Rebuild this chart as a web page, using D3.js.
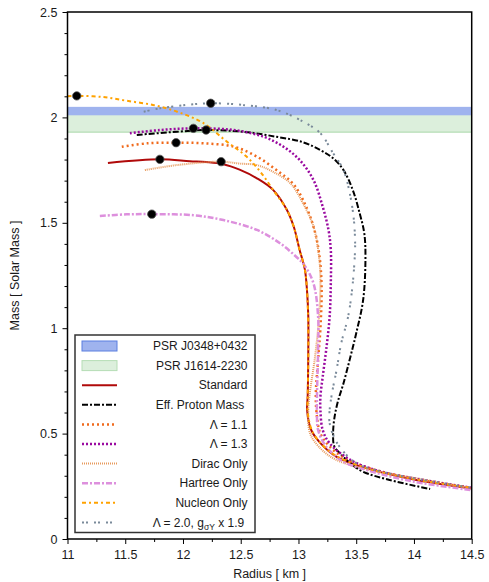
<!DOCTYPE html>
<html>
<head>
<meta charset="utf-8">
<script src="https://cdn.jsdelivr.net/npm/d3@7"></script>
<style>
  body { margin: 0; background: #fff; }
  text { font-family: "Liberation Sans", Arial, Helvetica, sans-serif; fill: #1a1a1a; }
</style>
</head>
<body>
<div id="chart"></div>
<script>
// mass-radius curves, [radius km, mass Msun]
var standard = [[11.35,1.784],[11.8,1.801],[12.06,1.792],[12.2,1.788],[12.35,1.778],[12.49,1.752],[12.64,1.711],[12.78,1.656],[12.9,1.561],[12.96,1.48],[13.01,1.371],[13.055,1.28],[13.075,1.17],[13.085,1.055],[13.085,0.897],[13.08,0.68],[13.075,0.61],[13.11,0.517],[13.19,0.455],[13.33,0.39],[13.59,0.335],[14.02,0.28],[14.5,0.24]];
var effProton = [[11.6,1.917],[11.95,1.932],[12.2,1.94],[12.52,1.932],[12.81,1.908],[13.04,1.882],[13.19,1.845],[13.3,1.806],[13.39,1.75],[13.47,1.656],[13.53,1.545],[13.57,1.45],[13.58,1.33],[13.56,1.134],[13.5,0.976],[13.45,0.865],[13.39,0.739],[13.34,0.65],[13.31,0.57],[13.3,0.5],[13.31,0.44],[13.37,0.4],[13.45,0.359],[13.56,0.319],[13.79,0.28],[14.14,0.237]];
var lambda11 = [[11.47,1.861],[11.69,1.877],[11.94,1.88],[12.18,1.877],[12.44,1.861],[12.64,1.814],[12.81,1.75],[12.95,1.687],[13.04,1.608],[13.13,1.482],[13.18,1.35],[13.2,1.2],[13.19,1.0],[13.17,0.85],[13.15,0.68],[13.16,0.58],[13.19,0.5],[13.26,0.445],[13.38,0.39],[13.62,0.335],[14.04,0.282],[14.5,0.243]];
var lambda13 = [[11.54,1.925],[11.8,1.94],[12.09,1.948],[12.44,1.94],[12.7,1.908],[12.87,1.861],[13.01,1.798],[13.13,1.703],[13.21,1.576],[13.26,1.466],[13.28,1.371],[13.28,1.213],[13.27,1.055],[13.24,0.897],[13.21,0.77],[13.19,0.675],[13.19,0.612],[13.21,0.517],[13.27,0.454],[13.45,0.375],[13.7,0.322],[14.05,0.283],[14.5,0.243]];
var diracOnly = [[11.67,1.75],[11.95,1.774],[12.33,1.79],[12.49,1.781],[12.64,1.774],[12.78,1.742],[12.93,1.687],[13.04,1.592],[13.13,1.482],[13.18,1.33],[13.19,1.2],[13.17,1.0],[13.14,0.85],[13.1,0.7],[13.085,0.612],[13.1,0.501],[13.19,0.43],[13.3,0.383],[13.45,0.351],[13.73,0.315],[14.02,0.288],[14.5,0.24]];
var hartreeOnly = [[11.28,1.532],[11.51,1.54],[11.73,1.541],[12.09,1.536],[12.35,1.513],[12.64,1.466],[12.84,1.403],[12.98,1.339],[13.05,1.3],[13.13,1.213],[13.17,1.055],[13.17,0.897],[13.16,0.675],[13.16,0.6],[13.17,0.517],[13.24,0.438],[13.38,0.37],[13.59,0.327],[14.0,0.272],[14.5,0.232]];
var nucleonOnly = [[11.0,2.1],[11.08,2.102],[11.3,2.097],[11.51,2.079],[11.74,2.059],[11.95,2.027],[12.18,1.972],[12.38,1.885],[12.55,1.814],[12.68,1.735],[12.78,1.656],[12.9,1.561],[12.96,1.48],[13.01,1.371],[13.055,1.28],[13.075,1.17],[13.085,1.0],[13.085,0.85],[13.08,0.68],[13.08,0.6],[13.12,0.51],[13.2,0.45],[13.34,0.39],[13.6,0.335],[14.02,0.282],[14.5,0.243]];
var lambda20 = [[11.66,2.027],[11.8,2.043],[12.03,2.059],[12.24,2.067],[12.52,2.059],[12.81,2.035],[13.04,1.98],[13.19,1.925],[13.3,1.83],[13.39,1.75],[13.45,1.624],[13.48,1.513],[13.49,1.418],[13.49,1.371],[13.47,1.213],[13.43,1.055],[13.37,0.928],[13.33,0.802],[13.29,0.691],[13.27,0.612],[13.27,0.549],[13.32,0.47],[13.39,0.414],[13.5,0.36],[13.7,0.322],[14.05,0.283],[14.5,0.243]];

// maximum-mass points
var maxPoints = [[11.8,1.801],[12.2,1.94],[11.94,1.88],[12.09,1.948],[12.33,1.79],[11.73,1.541],[11.08,2.102],[12.24,2.067]];

// observed pulsar masses
var psrNames = ["PSR J0348+0432", "PSR J1614-2230"];
var psrLow = [1.97, 1.93];
var psrHigh = [2.05, 2.01];

var xTicks = [11, 11.5, 12, 12.5, 13, 13.5, 14, 14.5];
var yTicks = [0, 0.5, 1, 1.5, 2, 2.5];

var series = [
  {name: "Standard", data: standard, color: "#b00a0a", width: 2, dash: null},
  {name: "Eff. Proton Mass ", data: effProton, color: "#000000", width: 2, dash: "6,2,2,2"},
  {name: "Λ = 1.1", data: lambda11, color: "#f06a1c", width: 2.5, dash: "2,3"},
  {name: "Λ = 1.3", data: lambda13, color: "#9a0aa0", width: 2.5, dash: "2,2"},
  {name: "Dirac Only", data: diracOnly, color: "#e89a5c", width: 2, dash: "1,1"},
  {name: "Hartree Only", data: hartreeOnly, color: "#dd90dd", width: 2.5, dash: "6,2,2,2"},
  {name: "Nucleon Only", data: nucleonOnly, color: "#ffa200", width: 2, dash: "4,3,2,3"},
  {name: "Λ20", data: lambda20, color: "#7a8a9a", width: 2, dash: "2,2,2,6"}
];

var svgWidth = 489, svgHeight = 582;
var margin = {top: 12, right: 17.3, bottom: 43, left: 67.5};
var chartWidth = svgWidth - margin.left - margin.right;
var chartHeight = svgHeight - margin.top - margin.bottom;

var svg = d3.select("#chart").append("svg")
  .attr("width", svgWidth)
  .attr("height", svgHeight);

var chartGroup = svg.append("g")
  .attr("transform", `translate(${margin.left}, ${margin.top})`);

var xScale = d3.scaleLinear().domain([11, 14.5]).range([0, chartWidth]);
var yScale = d3.scaleLinear().domain([0, 2.5]).range([chartHeight, 0]);

chartGroup.append("clipPath").attr("id", "clip")
  .append("rect").attr("width", chartWidth).attr("height", chartHeight);

var plot = chartGroup.append("g").attr("clip-path", "url(#clip)");

// pulsar bands
var bandFill = ["#9fb3ee", "#dcefdc"];
psrNames.forEach(function(n, i) {
  plot.append("rect")
    .attr("x", 0)
    .attr("width", chartWidth)
    .attr("y", yScale(psrHigh[i]))
    .attr("height", yScale(psrLow[i]) - yScale(psrHigh[i]))
    .attr("fill", bandFill[i]);
});
plot.append("line")
  .attr("x1", 0).attr("x2", chartWidth)
  .attr("y1", yScale(psrLow[1])).attr("y2", yScale(psrLow[1]))
  .attr("stroke", "#b5ddb5").attr("stroke-width", 1.2);

var line = d3.line()
  .x(d => xScale(d[0]))
  .y(d => yScale(d[1]))
  .curve(d3.curveCatmullRom.alpha(0.5));

series.forEach(function(s) {
  plot.append("path")
    .datum(s.data)
    .attr("fill", "none")
    .attr("stroke", s.color)
    .attr("stroke-width", s.width)
    .attr("stroke-dasharray", s.dash)
    .attr("d", line);
});

plot.selectAll(".maxpt")
  .data(maxPoints)
  .enter().append("circle")
  .attr("class", "maxpt")
  .attr("cx", d => xScale(d[0]))
  .attr("cy", d => yScale(d[1]))
  .attr("r", 4.2)
  .attr("fill", "#000")
  .attr("stroke", "#555")
  .attr("stroke-width", 0.8);

// axes
var xAxis = d3.axisBottom(xScale).tickValues(xTicks).tickSize(5).tickFormat(d3.format("~g"));
var yAxis = d3.axisLeft(yScale).tickValues(yTicks).tickSize(5).tickFormat(d3.format("~g"));

var gx = chartGroup.append("g")
  .attr("transform", `translate(0,${chartHeight})`)
  .call(xAxis);
gx.append("g").call(d3.axisBottom(xScale).tickValues(d3.range(11.25, 14.5, 0.5)).tickSize(3).tickFormat(""));

var gy = chartGroup.append("g").call(yAxis);
gy.append("g").call(d3.axisLeft(yScale).tickValues(d3.range(0, 2.51, 0.1).filter((v, i) => i % 5 != 0)).tickSize(3).tickFormat(""));

chartGroup.selectAll(".domain").remove();
chartGroup.selectAll(".tick line").attr("stroke", "#000").attr("stroke-width", 1);
gx.selectAll(".tick text").attr("font-size", "12.5px").attr("dy", "0.95em").attr("fill", "#1a1a1a");
gy.selectAll(".tick text").attr("font-size", "12.5px").attr("x", -10).attr("fill", "#1a1a1a");

chartGroup.append("rect")
  .attr("width", chartWidth).attr("height", chartHeight)
  .attr("fill", "none").attr("stroke", "#000").attr("stroke-width", 1.5);

svg.append("text")
  .attr("x", margin.left + chartWidth / 2)
  .attr("y", 578)
  .attr("text-anchor", "middle")
  .attr("font-size", "12.5px")
  .text("Radius [ km ]");

svg.append("text")
  .attr("transform", `translate(19, ${margin.top + chartHeight / 2}) rotate(-90)`)
  .attr("text-anchor", "middle")
  .attr("font-size", "12.5px")
  .text("Mass [ Solar Mass ]");

// legend
var legend = svg.append("g");
legend.append("rect")
  .attr("x", 75).attr("y", 335)
  .attr("width", 180).attr("height", 197.5)
  .attr("fill", "#fff").attr("stroke", "#333").attr("stroke-width", 1.5);

var rowY = d3.range(10).map(i => 346 + i * 19.6);
var bandStroke = ["#5a7fe0", "#b5ddb5"];
psrNames.forEach(function(n, i) {
  legend.append("rect")
    .attr("x", 82).attr("y", rowY[i] - 5)
    .attr("width", 35).attr("height", 10)
    .attr("fill", bandFill[i]).attr("stroke", bandStroke[i]).attr("stroke-width", 1);
  legend.append("text")
    .attr("x", 247.5).attr("y", rowY[i]).attr("dy", "0.35em")
    .attr("text-anchor", "end").attr("font-size", "12px")
    .text(n);
});

series.forEach(function(s, i) {
  var yy = rowY[i + 2];
  legend.append("line")
    .attr("x1", 82).attr("x2", 117).attr("y1", yy).attr("y2", yy)
    .attr("stroke", s.color).attr("stroke-width", s.width)
    .attr("stroke-dasharray", s.dash);
  var t = legend.append("text")
    .attr("x", 247.5).attr("y", yy).attr("dy", "0.35em")
    .attr("text-anchor", "end").attr("font-size", "12px").attr("xml:space", "preserve");
  if (s.name == "Λ20") {
    t.append("tspan").text("Λ = 2.0, g");
    t.append("tspan").attr("font-size", "8.5px").attr("dy", "3").text("σY");
    t.append("tspan").attr("dy", "-3").text(" x 1.9 ");
  } else {
    t.text(s.name);
  }
});
</script>
</body>
</html>
